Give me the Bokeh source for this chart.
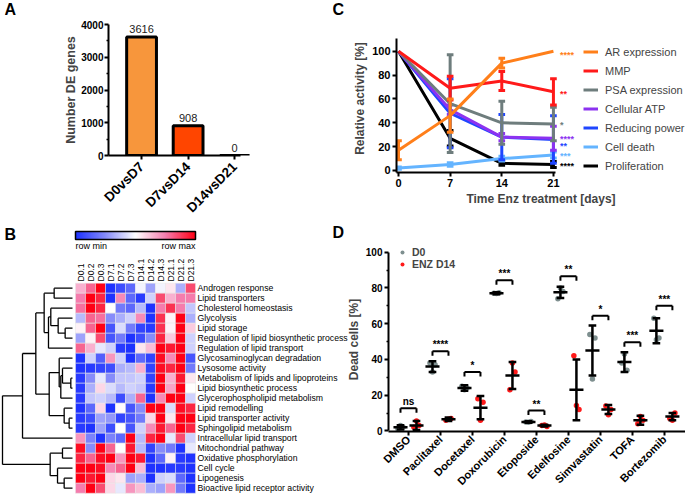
import numpy as np
from bokeh.plotting import figure
from bokeh.models import (Range1d, FixedTicker, Legend, LegendItem,
                          LinearColorMapper, ColumnDataSource)
from bokeh.transform import transform
from bokeh.embed import file_html
from bokeh.resources import INLINE
from bokeh.core.properties import value

FONT = "Liberation Sans"

# ---------------- Panel A data ----------------
a_cats = ["D0vsD7", "D7vsD14", "D14vsD21"]
a_vals = [3616, 908, 0]
a_colors = ["#F7963C", "#FF4500", "#FF4500"]

# ---------------- Panel C data ----------------
c_days = [0, 7, 14, 21]
c_names = ["AR expression", "MMP", "PSA expression", "Cellular ATP",
           "Reducing power", "Cell death", "Proliferation"]
c_colors = ["#FF7F1A", "#FF1A1A", "#6E7D7D", "#8C32F0", "#1F46FF", "#64B4FF", "#000000"]
c_ar = [17, 46, 90, 100]
c_ar_sd = [8, 14, 4, 0]
c_mmp = [100, 69, 75, 66]
c_mmp_sd = [0, 10, 8, 11]
c_psa = [100, 56, 40, 39]
c_psa_sd = [0, 41, 18, 14]
c_atp = [100, 51, 28, 27]
c_atp_sd = [0, 4, 3, 10]
c_red = [100, 48, 28, 26]
c_red_sd = [0, 29, 19, 20]
c_death = [2, 5, 10, 13]
c_death_sd = [1, 1.5, 2, 2.5]
c_prolif = [100, 27, 6, 5]
c_prolif_sd = [0, 6.5, 1.5, 2.5]
c_stars = ["****", "**", "*", "****", "**", "***", "****"]
c_star_y = [98.6, 65.6, 39.7, 28.5, 21.8, 14, 5.6]

# ---------------- Panel B data ----------------
b_cols = ["D0.1", "D0.2", "D0.3", "D7.1", "D7.2", "D7.3",
          "D14.1", "D14.2", "D14.3", "D21.1", "D21.2", "D21.3"]
b_rows = ["Androgen response", "Lipid transporters", "Cholesterol homeostasis",
          "Glycolysis", "Lipid storage", "Regulation of lipid biosynthetic process",
          "Regulation of lipid transport", "Glycosaminoglycan degradation",
          "Lysosome activity", "Metabolism of lipids and lipoproteins",
          "Lipid biosynthetic process", "Glycerophospholipid metabolism",
          "Lipid remodelling", "Lipid transporter activity", "Sphingolipid metabolism",
          "Intracellular lipid transport", "Mitochondrial pathway",
          "Oxidative phosphorylation", "Cell cycle", "Lipogenesis",
          "Bioactive lipid receptor activity"]
b_vals = [
    [0.3, 0.6, 1.0, -1.0, -0.85, -0.7, -0.05, -0.4, -0.05, 0.1, -0.35, 0.7],
    [0.5, 1.0, 0.85, -1.0, 0.45, -0.7, -0.95, -0.2, 0.7, 0.3, 0.5, 0.5],
    [0.55, 1.0, 0.85, 0.0, -0.6, -0.7, -0.3, -1.0, 0.5, 0.8, 0.5, -0.25],
    [-0.3, 0.6, 0.55, -0.5, -0.35, -0.2, 0.45, -1.0, 0.8, 0.05, 1.0, -0.35],
    [0.05, 0.6, 1.0, -0.8, -0.15, -0.6, -0.9, -0.95, 0.8, 0.05, 1.0, 0.2],
    [-0.4, 0.05, 0.7, -0.8, -0.6, -1.0, -0.85, -0.5, 0.85, 0.2, 1.0, -0.2],
    [0.6, 0.3, -0.1, -0.2, -0.95, -1.0, 0.1, 0.25, 1.0, 0.9, 1.0, -0.2],
    [-1.0, -0.2, -0.75, 0.4, -0.2, -1.0, -0.7, -0.9, 0.95, 0.45, 1.0, -0.8],
    [-1.0, -0.95, -0.9, -0.85, -0.35, -0.3, 0.3, -0.9, 0.95, 0.85, 1.0, -0.6],
    [-0.95, -0.5, -0.1, -0.5, -0.25, -0.25, -0.2, -0.9, 1.0, 0.3, 0.9, 0.1],
    [-0.95, -0.35, 0.15, -0.15, -0.3, -0.2, -0.25, -0.95, 1.0, 0.35, 1.0, 0.0],
    [-0.95, -0.25, -0.2, -0.3, -0.85, -0.35, 0.6, -1.0, 0.45, 1.0, 1.0, -0.2],
    [-1.0, -0.7, 0.15, -1.0, 0.02, -0.8, -0.5, 1.0, 1.0, -0.15, 0.95, 0.85],
    [-0.95, -0.85, -0.4, -0.45, -0.9, -0.8, -0.6, 0.15, 1.0, 0.1, 1.0, 1.0],
    [-0.95, -1.0, -0.4, -0.85, 0.0, -0.8, -0.2, 0.45, 0.9, 0.6, 1.0, 0.85],
    [0.4, -0.55, -1.0, -0.55, -0.7, 1.0, -0.3, 0.85, 1.0, -0.1, 0.7, -0.2],
    [0.95, -0.5, 1.0, 0.6, 0.0, 0.9, -0.3, -0.9, -0.5, -0.6, -1.0, -0.1],
    [0.85, 0.6, 0.95, 1.0, 0.4, 1.0, 0.9, -1.0, -0.7, 0.05, -0.95, -1.0],
    [1.0, 1.0, 0.95, 0.45, 0.6, 1.0, 0.25, -1.0, -1.0, -0.95, -0.95, -1.0],
    [1.0, 0.9, 1.0, 0.15, 0.1, -0.4, -0.35, -1.0, -0.2, -0.15, -0.7, -1.0],
    [0.5, 1.0, 0.7, 0.15, -0.1, 0.4, 0.25, -0.35, -0.4, 0.4, -0.6, -1.0],
]
# dendrogram merges: (left cluster, right cluster, height 0..1); new ids start at 21
b_links = [
    (0, 1, 0.262), (4, 5, 0.105), (3, 22, 0.205), (2, 23, 0.31), (24, 6, 0.343),
    (21, 25, 0.405), (9, 10, 0.024), (8, 27, 0.143), (28, 11, 0.167), (7, 29, 0.19),
    (13, 14, 0.048), (12, 31, 0.119), (30, 32, 0.333), (26, 33, 0.524), (34, 15, 0.714),
    (16, 17, 0.143), (19, 20, 0.119), (18, 37, 0.214), (36, 38, 0.319), (35, 39, 1.0),
]

# ---------------- Panel D data ----------------
d_drugs = ["DMSO", "Paclitaxel", "Docetaxel", "Doxorubicin", "Etoposide",
           "Edelfosine", "Simvastatin", "TOFA", "Bortezomib"]
d0_mean = [2, 36, 24, 77, 5, 77.5, 45, 38.5, 56]
d0_sd = [1.2, 3, 1.5, 0.5, 0.4, 3.2, 14, 5.5, 7]
d0_pts = [[1, 2, 3], [38, 37, 33], [25, 24, 23], [77, 77.3, 76.8], [5, 5.2, 4.8],
          [74, 78, 80], [54, 52, 29], [38, 34, 43], [63, 52, 51]]
enz_mean = [3, 6.5, 13, 31, 3, 23, 12, 6, 8]
enz_sd = [2.5, 1, 6.5, 7.5, 0.5, 17, 2.5, 2.5, 2]
enz_pts = [[2, 3, 5.5], [6, 7, 6.5], [18, 16, 6], [23, 33, 38], [3, 2.5, 3.3],
           [42, 12, 14.2], [14, 12, 9], [4, 6, 8], [7, 10, 6]]
d_sig = ["ns", "****", "*", "***", "**", "**", "*", "***", "***"]
d_bracket_y = [12.7, 44.6, 33, 84.3, 11.4, 86.5, 64.4, 49.6, 70]
d_colors = {"D0": "#7E8F8F", "ENZ D14": "#FF1A1A"}

panel_letters = ["A", "B", "C", "D"]


def place(left, top):
    return {"position": "absolute", "left": f"{left}px", "top": f"{top}px"}


def style_axes(p, tick_size="10px", label_size="11.5px"):
    for ax in p.axis:
        ax.axis_line_width = 2
        ax.major_tick_line_width = 2
        ax.minor_tick_line_width = 1.5
        ax.major_tick_out = 4
        ax.major_tick_in = 0
        ax.minor_tick_out = 2
        ax.minor_tick_in = 0
        ax.major_label_text_font = FONT
        ax.major_label_text_font_style = "bold"
        ax.major_label_text_font_size = tick_size
        ax.major_label_text_color = "black"
        ax.axis_label_text_font = FONT
        ax.axis_label_text_font_style = "bold"
        ax.axis_label_text_font_size = label_size
        ax.axis_label_standoff = 2
        ax.major_label_standoff = 2
    p.grid.visible = False
    p.outline_line_color = None


def letter_fig(txt, left, top):
    f = figure(width=22, height=22, output_backend="svg", toolbar_location=None,
               x_range=Range1d(0, 22), y_range=Range1d(22, 0),
               x_axis_location=None, y_axis_location=None,
               min_border_left=0, min_border_right=0, min_border_top=0,
               min_border_bottom=0, background_fill_alpha=0, border_fill_alpha=0,
               styles=place(left, top))
    f.grid.visible = False
    f.outline_line_color = None
    f.text(x=[0], y=[0], text=[txt], text_font=value(FONT), text_font_style="bold",
           text_font_size="16px", text_baseline="top", text_align="left",
           text_color="black")
    return f


# ======================= Panel A =======================
A_L, A_T, A_B, A_R = 108, 24, 73, 80
pA = figure(width=330, height=228, output_backend="svg", toolbar_location=None,
            x_range=Range1d(-0.71, 2.34), y_range=Range1d(0, 4000),
            min_border_left=A_L, min_border_right=A_R, min_border_top=A_T,
            min_border_bottom=A_B, styles=place(0, 0))
xa = list(range(len(a_cats)))
pA.vbar(x=xa, top=a_vals, width=0.64, fill_color=a_colors, line_color="black", line_width=3)
pA.text(x=xa, y=a_vals, text=[str(v) for v in a_vals], y_offset=-4,
        text_align="center", text_baseline="bottom", text_font=value(FONT),
        text_font_size="11px", text_color="#222222")
pA.xaxis.ticker = FixedTicker(ticks=xa)
pA.xaxis.major_label_overrides = {i: c for i, c in enumerate(a_cats)}
pA.xaxis.major_label_orientation = np.pi / 4
pA.xaxis.bounds = (-0.71, 2.13)
pA.yaxis.ticker = FixedTicker(ticks=[0, 1000, 2000, 3000, 4000],
                              minor_ticks=[500, 1500, 2500, 3500])
pA.yaxis.axis_label = "Number DE genes"
style_axes(pA, tick_size="10px", label_size="12.5px")
pA.xaxis.major_label_text_font_size = "13.5px"
pA.xaxis.major_label_standoff = 5
pA.yaxis.axis_label_standoff = 0
pA.yaxis.major_label_standoff = 1

# ======================= Panel C =======================
C_L, C_T, C_B = 66, 24, 56
pC = figure(width=355, height=228, output_backend="svg", toolbar_location=None,
            x_range=Range1d(-0.27, 38.9), y_range=Range1d(-1.68, 122.4),
            min_border_left=C_L, min_border_right=0, min_border_top=C_T,
            min_border_bottom=C_B, styles=place(330, 0))
c_means = [c_ar, c_mmp, c_psa, c_atp, c_red, c_death, c_prolif]
c_sds = [c_ar_sd, c_mmp_sd, c_psa_sd, c_atp_sd, c_red_sd, c_death_sd, c_prolif_sd]
c_lines = {}
for k in reversed(range(len(c_names))):
    col = c_colors[k]
    m, s = c_means[k], c_sds[k]
    xs = [d for d, sd in zip(c_days, s) if sd > 0]
    lo = [mm - sd for mm, sd in zip(m, s) if sd > 0]
    hi = [mm + sd for mm, sd in zip(m, s) if sd > 0]
    pC.segment(x0=xs, x1=xs, y0=lo, y1=hi, line_color=col, line_width=3)
    for yy in (lo, hi):
        pC.segment(x0=[x - 0.45 for x in xs], x1=[x + 0.45 for x in xs], y0=yy, y1=yy,
                   line_color=col, line_width=3)
    c_lines[k] = pC.line(c_days, m, line_color=col, line_width=3)
pC.text(x=[21.9] * len(c_stars), y=c_star_y, text=c_stars, text_color=c_colors,
        text_font=value(FONT), text_font_style="bold", text_font_size="9px",
        text_align="left", text_baseline="middle", y_offset=2)
legC = Legend(items=[LegendItem(label=c_names[k], renderers=[c_lines[k]])
                     for k in range(len(c_names))],
              location=(187, -3), glyph_width=15, glyph_height=19, label_height=19,
              spacing=0, padding=0, margin=0, label_standoff=7,
              border_line_color=None, background_fill_alpha=0,
              label_text_font=FONT, label_text_font_size="11px")
pC.add_layout(legC)
pC.xaxis.ticker = FixedTicker(ticks=c_days)
pC.xaxis.bounds = (-0.27, 21.3)
pC.yaxis.bounds = (-1.68, 110.7)
pC.yaxis.ticker = FixedTicker(ticks=[0, 20, 40, 60, 80, 100], minor_ticks=[])
pC.xaxis.axis_label = "Time Enz treatment [days]"
pC.yaxis.axis_label = "Relative activity [%]"
style_axes(pC, tick_size="11px", label_size="12px")

# ======================= Panel B =======================
# slightly wider than its column (transparent), so the longest row labels run on
# into the empty margin left of panel D, as in the original figure
pB = figure(width=350, height=266, output_backend="svg", toolbar_location=None,
            x_range=Range1d(-7.5, 27.5), y_range=Range1d(21.13, -5.47),
            x_axis_location=None, y_axis_location=None,
            min_border_left=0, min_border_right=0, min_border_top=0, min_border_bottom=0,
            background_fill_alpha=0, border_fill_alpha=0,
            styles=place(0, 228))
pB.grid.visible = False
pB.outline_line_color = None


def _interp_palette(anchors, n=256):
    pos = [a[0] for a in anchors]
    cols = np.array([a[1] for a in anchors], dtype=float)
    out = []
    for t in np.linspace(-1, 1, n):
        rgb = [np.interp(t, pos, cols[:, c]) for c in range(3)]
        out.append("#%02x%02x%02x" % tuple(int(round(v)) for v in rgb))
    return out


palette = _interp_palette([(-1, (30, 50, 255)), (-0.5, (135, 140, 250)),
                           (0, (255, 255, 255)), (0.5, (245, 125, 175)),
                           (1, (255, 0, 20))])
mapper = LinearColorMapper(palette=palette, low=-1, high=1)
hx, hy, hv = [], [], []
for i, rv in enumerate(b_vals):
    for j, v in enumerate(rv):
        hx.append(j + 0.5)
        hy.append(i + 0.5)
        hv.append(v)
srcB = ColumnDataSource(dict(x=hx, y=hy, v=hv))
pB.rect(x="x", y="y", width=1, height=1, source=srcB,
        fill_color=transform("v", mapper), line_color="#e6e6e6", line_width=0.5)

n_leaf = len(b_rows)


def dx(h):
    return -0.3 - h * 7.0


ypos = {i: i + 0.5 for i in range(n_leaf)}
hgt = {i: 0.0 for i in range(n_leaf)}
sx0, sx1, sy0, sy1 = [], [], [], []
for k, (a, b, h) in enumerate(b_links):
    cid = n_leaf + k
    xm = dx(h)
    for c in (a, b):
        sx0.append(dx(hgt[c])); sx1.append(xm); sy0.append(ypos[c]); sy1.append(ypos[c])
    sx0.append(xm); sx1.append(xm); sy0.append(ypos[a]); sy1.append(ypos[b])
    ypos[cid] = (ypos[a] + ypos[b]) / 2
    hgt[cid] = h
pB.segment(x0=sx0, x1=sx1, y0=sy0, y1=sy1, line_color="black", line_width=1.3)

pB.text(x=[12.2] * n_leaf, y=[i + 0.5 for i in range(n_leaf)], text=b_rows,
        text_font=value(FONT), text_font_size="8.7px", text_align="left",
        text_baseline="middle", text_color="black")
pB.text(x=[j + 0.5 for j in range(len(b_cols))], y=[-0.17] * len(b_cols), text=b_cols,
        angle=np.pi / 2, text_font=value(FONT), text_font_size="8.5px",
        text_align="left", text_baseline="middle", text_color="black")
pB.image(image=[np.linspace(-1, 1, 256)[None, :]], x=0, y=-5.17, dw=len(b_cols), dh=0.8,
         color_mapper=mapper)
pB.quad(left=0, right=len(b_cols), top=-5.17, bottom=-4.37, fill_color=None,
        line_color="black", line_width=1.5)
pB.text(x=[0, len(b_cols)], y=[-3.77, -3.77], text=["row min", "row max"],
        text_align=["left", "right"], text_baseline="middle", text_font=value(FONT),
        text_font_size="9px", text_color="black")

# ======================= Panel D =======================
D_L, D_T, D_B = 58, 19, 61
pD = figure(width=355, height=266, output_backend="svg", toolbar_location=None,
            x_range=Range1d(0.375, 9.66), y_range=Range1d(-0.33, 102.6),
            min_border_left=D_L, min_border_right=0, min_border_top=D_T,
            min_border_bottom=D_B, styles=place(330, 228))
jit = (-0.08, 0.08, 0.0)
centers = list(range(1, len(d_drugs) + 1))
renders = {}
for name, off, means, sds, pts in (("D0", -0.25, d0_mean, d0_sd, d0_pts),
                                   ("ENZ D14", 0.25, enz_mean, enz_sd, enz_pts)):
    px, py = [], []
    for c, ps in zip(centers, pts):
        for jj, v in zip(jit, ps):
            px.append(c + off + jj)
            py.append(v)
    renders[name] = pD.scatter(px, py, size=5.5, fill_color=d_colors[name],
                               line_color=None)
    xs = [c + off for c in centers]
    lo = [m - s for m, s in zip(means, sds)]
    hi = [m + s for m, s in zip(means, sds)]
    pD.segment(x0=xs, x1=xs, y0=lo, y1=hi, line_color="black", line_width=2.5)
    for yy in (lo, hi):
        pD.segment(x0=[x - 0.12 for x in xs], x1=[x + 0.12 for x in xs], y0=yy, y1=yy,
                   line_color="black", line_width=2.5)
    pD.segment(x0=[x - 0.22 for x in xs], x1=[x + 0.22 for x in xs], y0=means, y1=means,
               line_color="black", line_width=2.5)
bl = [c - 0.25 for c in centers]
br = [c + 0.25 for c in centers]
pD.segment(x0=bl, x1=br, y0=d_bracket_y, y1=d_bracket_y, line_color="black", line_width=2)
pD.segment(x0=bl, x1=bl, y0=d_bracket_y, y1=[y - 2.5 for y in d_bracket_y],
           line_color="black", line_width=2)
pD.segment(x0=br, x1=br, y0=d_bracket_y, y1=[y - 2.5 for y in d_bracket_y],
           line_color="black", line_width=2)
pD.text(x=centers, y=d_bracket_y, text=d_sig, y_offset=-1, text_align="center",
        text_baseline="bottom", text_font=value(FONT), text_font_style="bold",
        text_font_size="10px", text_color="black")
legD = Legend(items=[LegendItem(label=n, renderers=[renders[n]]) for n in ("D0", "ENZ D14")],
              location=(9, 161), glyph_width=10, glyph_height=12, label_height=12,
              spacing=0, padding=0, margin=0, label_standoff=5,
              border_line_color=None, background_fill_alpha=0,
              label_text_font=FONT, label_text_font_style="bold",
              label_text_font_size="10.5px")
pD.add_layout(legD)
pD.xaxis.ticker = FixedTicker(ticks=centers)
pD.xaxis.major_label_overrides = {c: n for c, n in zip(centers, d_drugs)}
pD.xaxis.major_label_orientation = np.pi / 4
pD.yaxis.bounds = (0, 100)
pD.yaxis.ticker = FixedTicker(ticks=[0, 20, 40, 60, 80, 100],
                              minor_ticks=[10, 30, 50, 70, 90])
pD.yaxis.axis_label = "Dead cells [%]"
style_axes(pD, tick_size="10px", label_size="12px")
pD.xaxis.major_label_text_font_size = "11px"
pD.xaxis.major_label_standoff = 2

letters = [letter_fig(t, lx, ly) for t, (lx, ly) in
           zip(panel_letters, [(4, 0), (4, 225), (332, 0), (332, 223)])]

open("out.html", "w").write(file_html([pA, pC, pD, pB] + letters, INLINE))
